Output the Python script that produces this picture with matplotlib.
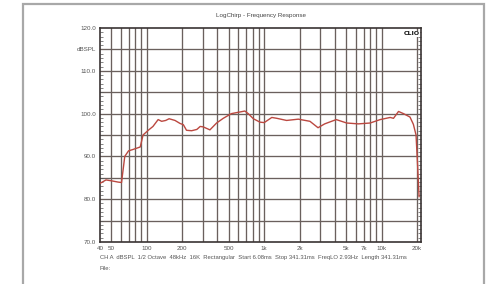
import matplotlib
matplotlib.use("Agg")
import matplotlib.pyplot as plt
from matplotlib.ticker import FixedLocator, NullFormatter, MultipleLocator
from matplotlib.patches import Rectangle

# ---- data ----
freq_hz = [40, 45, 50, 57, 61, 65, 70, 76, 88, 93, 104, 113, 125, 134, 145, 155,
           174, 192, 205, 218, 241, 267, 285, 302, 345, 393, 448, 526, 600, 684,
           730, 808, 920, 1000, 1160, 1280, 1550, 1950, 2450, 2870, 3270, 4100,
           5040, 6330, 7970, 9700, 11800, 12600, 13900, 15300, 17400, 18600,
           19600, 20200, 20800]
spl_db = [83.7, 84.5, 84.3, 84.0, 83.9, 90.0, 91.3, 91.6, 92.2, 95.0, 96.2, 97.0,
          98.6, 98.2, 98.4, 98.8, 98.4, 97.7, 97.4, 96.1, 96.0, 96.3, 97.0, 96.9,
          96.2, 97.8, 98.9, 100.0, 100.3, 100.6, 100.0, 98.8, 98.0, 97.9, 99.1,
          98.9, 98.4, 98.7, 98.2, 96.7, 97.6, 98.6, 97.8, 97.6, 97.8, 98.6, 99.1,
          98.9, 100.5, 100.0, 99.2, 97.5, 95.0, 88.0, 80.6]

x_tick_vals = [40, 50, 100, 200, 500, 1000, 2000, 5000, 7000, 10000, 20000]
x_tick_labels = ["40", "50", "100", "200", "500", "1k", "2k", "5k", "7k", "10k", "20k"]
x_grid = [50, 60, 70, 80, 90, 100, 200, 300, 400, 500, 600, 700, 800, 900,
          1000, 2000, 3000, 4000, 5000, 6000, 7000, 8000, 9000, 10000, 20000]
y_tick_vals = [70, 80, 90, 100, 110, 115, 120]
y_tick_labels = ["70.0", "80.0", "90.0", "100.0", "110.0", "dBSPL", "120.0"]

title = "LogChirp - Frequency Response"
footer = ("CH A  dBSPL  1/2 Octave  48kHz  16K  Rectangular  Start 6.08ms  "
          "Stop 341.31ms  FreqLO 2.93Hz  Length 341.31ms")

W, H = 492, 284
fig = plt.figure(figsize=(W / 100, H / 100), dpi=100)
fig.patch.set_facecolor("white")

# outer gray frame
fig.add_artist(Rectangle((23 / W, -0.05), (484 - 23) / W, 1.05 - 4 / H,
                         transform=fig.transFigure, fill=False,
                         edgecolor="#a8a8a8", linewidth=1.6))

left, right, top, bottom = 100 / W, 421 / W, 1 - 28 / H, 1 - 242 / H
ax = fig.add_axes([left, bottom, right - left, top - bottom])
ax.set_xscale("log")
ax.set_xlim(40, 21600)
ax.set_ylim(70, 120)

grid_c = "#6a605d"
for g in x_grid:
    ax.axvline(g, color=grid_c, lw=0.95, zorder=1)
for g in range(75, 120, 5):
    ax.axhline(g, color=grid_c, lw=0.95, zorder=1)

ax.plot(freq_hz, spl_db, color="#bb4840", lw=1.0, zorder=3)

ax.xaxis.set_major_locator(FixedLocator(x_tick_vals))
ax.set_xticklabels(x_tick_labels)
ax.xaxis.set_minor_formatter(NullFormatter())
ax.xaxis.set_minor_locator(FixedLocator([]))
ax.tick_params(axis="x", which="major", length=0, pad=3, labelsize=4.5,
               labelcolor="#555555")

ax.yaxis.set_major_locator(FixedLocator(y_tick_vals))
ax.set_yticklabels(y_tick_labels)
ax.yaxis.set_minor_locator(MultipleLocator(1))
ax.tick_params(axis="y", which="both", direction="in", left=True, right=True,
               color="#555555", labelsize=4.5, labelcolor="#555555", pad=3)
ax.tick_params(axis="y", which="major", length=0)
ax.tick_params(axis="y", which="minor", length=2.5, width=0.5)

for s in ax.spines.values():
    s.set_color("#3a3433")
    s.set_linewidth(1.2)

fig.text((left + right) / 2, 1 - 16 / H, title, ha="center", va="center",
         fontsize=4.5, color="#444444", family="Liberation Sans")
ax.text(0.995, 0.985, "CLIO", transform=ax.transAxes, ha="right", va="top",
        fontsize=4.5, fontweight="bold", color="#111111", zorder=5,
        bbox=dict(facecolor="white", edgecolor="none", pad=0.5))
fig.text(left, 1 - 258 / H, footer, ha="left", va="center", fontsize=4.2,
         color="#555555", family="Liberation Sans")
fig.text(left, 1 - 268 / H, "File:", ha="left", va="center", fontsize=4.2,
         color="#555555", family="Liberation Sans")

for lbl in ax.get_xticklabels() + ax.get_yticklabels():
    lbl.set_family("Liberation Sans")

fig.savefig("out.png", dpi=100, facecolor="white")
